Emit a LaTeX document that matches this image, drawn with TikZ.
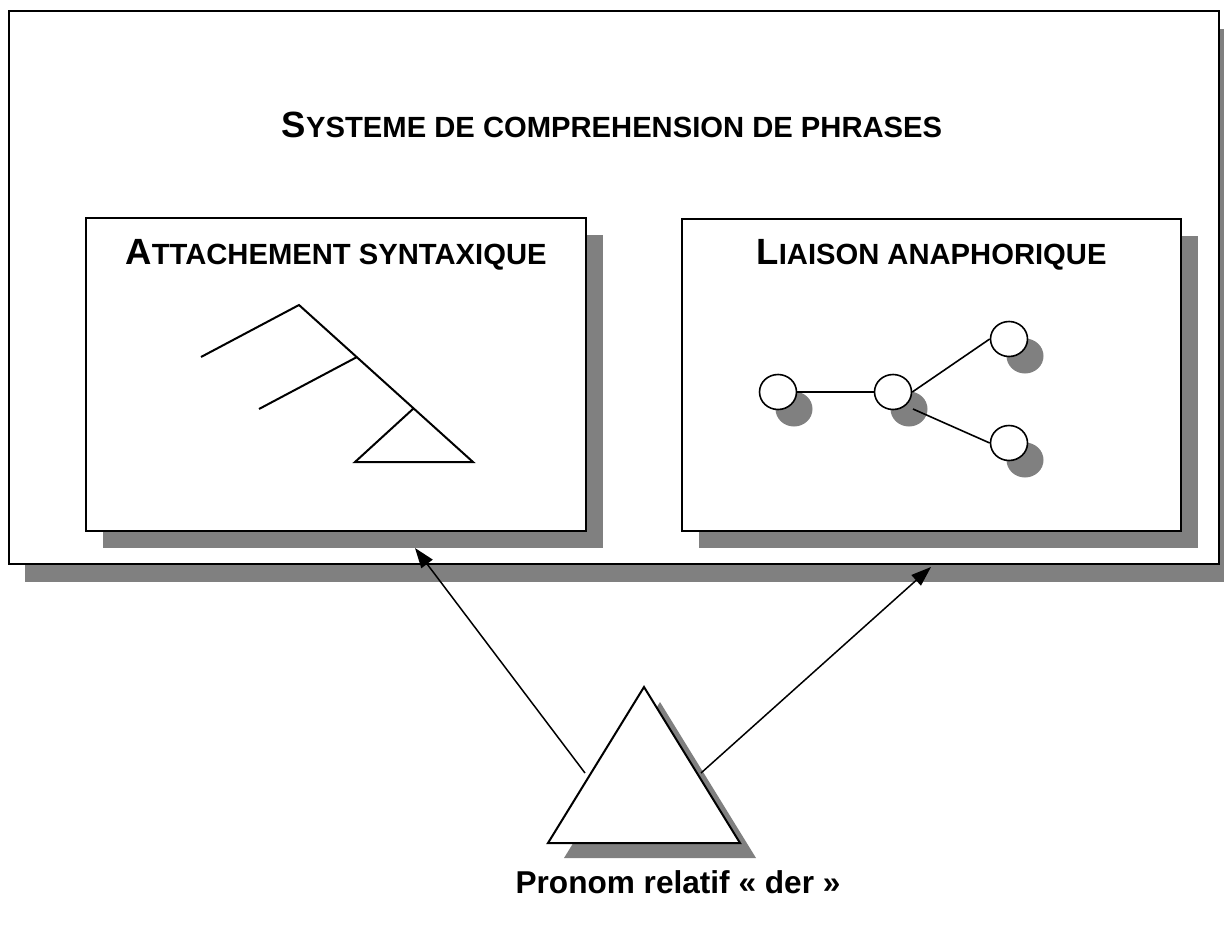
\documentclass[tikz,border=0pt]{standalone}
\usepackage{fontspec}
\setmainfont{Liberation Sans}
\usetikzlibrary{arrows.meta,shapes.geometric,shadows}
\definecolor{shadowc}{RGB}{128,128,128}
\newcommand{\capsc}[2]{{\fontsize{18.25pt}{20pt}\selectfont #1}{\fontsize{14.6pt}{16pt}\selectfont #2}}
\begin{document}
\begin{tikzpicture}[x=0.5pt,y=-0.5pt,
  box/.style={rectangle, draw=black, line width=1pt, fill=white, inner sep=0pt,
    general shadow={fill=shadowc, shadow xshift=8.5pt, shadow yshift=-8.5pt}},
  outerbox/.style={rectangle, draw=black, line width=1pt, fill=white, inner sep=0pt,
    general shadow={fill=shadowc, shadow xshift=8pt, shadow yshift=-9pt}},
  heading/.style={anchor=base, inner sep=0pt, font=\bfseries},
  gnode/.style={ellipse, draw=black, line width=0.8pt, fill=white, inner sep=0pt,
    minimum width=18.5pt, minimum height=17.5pt,
    general shadow={fill=shadowc, shadow xshift=8pt, shadow yshift=-8.5pt}},
  treeline/.style={line width=1pt, line join=miter},
  gline/.style={line width=0.8pt},
  arr/.style={-{Triangle[length=10pt,width=7pt]}, line width=0.75pt}]
\clip (0,0) rectangle (1224,926);
\fill[white] (0,0) rectangle (1224,926);

% outer box
\node[outerbox, minimum width=605pt, minimum height=276.5pt] (outer) at (614,287.5) {};
\node[heading] (title) at (612,137) {\capsc{S}{YSTEME DE COMPREHENSION DE PHRASES}};

% inner boxes
\node[box, minimum width=250pt, minimum height=156.5pt] (lbox) at (336,374.5) {};
\node[box, minimum width=249.5pt, minimum height=156pt] (rbox) at (931.5,375) {};
\node[heading] (ltitle) at (336,264) {\capsc{A}{TTACHEMENT SYNTAXIQUE}};
\node[heading] (rtitle) at (931.5,264) {\capsc{L}{IAISON ANAPHORIQUE}};

% syntactic tree
\coordinate (ta) at (299,305);
\coordinate (tl1) at (201,357);
\coordinate (tb) at (357,357);
\coordinate (tl2) at (259,409);
\coordinate (tc) at (414,408);
\coordinate (tr) at (473,462);
\coordinate (tbl) at (355,462);
\draw[treeline] (tl1) -- (ta) -- (tr) -- (tbl) -- (tc);
\draw[treeline] (tb) -- (tl2);

% anaphoric graph
\node[gnode] (n1) at (778,392) {};
\node[gnode] (n2) at (893,392) {};
\node[gnode] (n3) at (1009,339) {};
\node[gnode] (n4) at (1009,443) {};
\coordinate (n2s) at (913,409);
\draw[gline] (n1) -- (n2);
\draw[gline] (n2.east) -- (n3.west);
\draw[gline] (n2s) -- (n4.west);

% pronoun triangle
\coordinate (pa) at (644,687);
\coordinate (pl) at (548,843);
\coordinate (pr) at (740,843);
\fill[shadowc] (660,702) -- (564,858) -- (756,858) -- cycle;
\draw[line width=1pt, fill=white, line join=miter] (pa) -- (pl) -- (pr) -- cycle;
\node[anchor=base, inner sep=0pt, font=\fontsize{15.8pt}{18pt}\selectfont\bfseries] (pron) at (678,893) {Pronom relatif « der »};

% arrows
\coordinate (al0) at (585,773);
\coordinate (al1) at (415,548);
\coordinate (ar0) at (701,773);
\coordinate (ar1) at (931,567);
\draw[arr] (al0) -- (al1);
\draw[arr] (ar0) -- (ar1);
\end{tikzpicture}
\end{document}
